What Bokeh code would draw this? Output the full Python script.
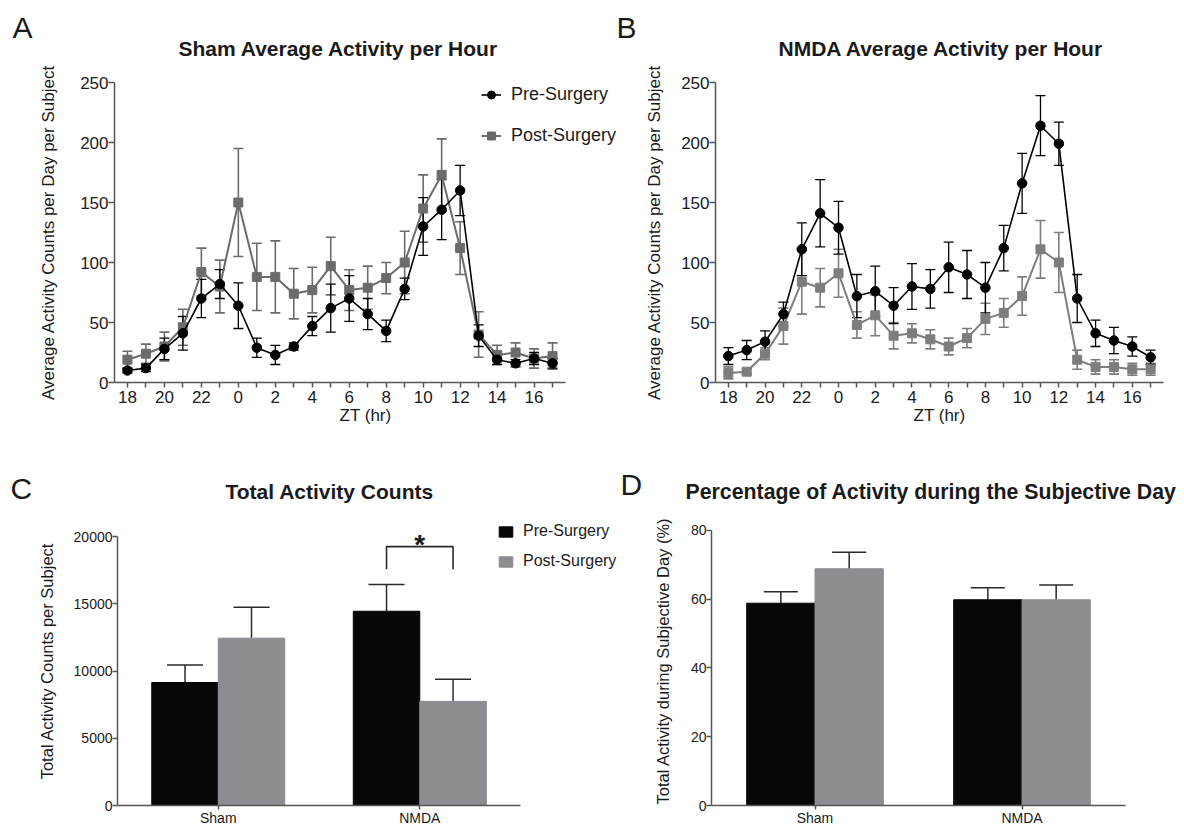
from bokeh.plotting import figure
from bokeh.models import (ColumnDataSource, Whisker, TeeHead, FixedTicker, Range1d,
                          Legend, LegendItem)
from bokeh.layouts import row, column
from bokeh.transform import dodge
from bokeh.core.properties import value
from bokeh.embed import file_html
from bokeh.resources import INLINE

FONT = "Liberation Sans"

# ---------------- data ----------------
hours = [18, 19, 20, 21, 22, 23, 0, 1, 2, 3, 4, 5, 6, 7, 8, 9, 10, 11, 12, 13, 14, 15, 16, 17]
yticks_hourly = [0, 50, 100, 150, 200, 250]

sham_pre = [10, 12, 28, 41, 70, 82, 64, 29, 23, 30, 47, 62, 70, 57, 43, 78, 130, 144, 160, 39, 19, 16, 20, 16]
sham_pre_err = [2, 3, 9, 14, 16, 12, 19, 8, 8, 3, 8, 20, 19, 13, 9, 9, 24, 25, 21, 9, 4, 3, 5, 4]
sham_post = [19, 24, 30, 46, 92, 80, 150, 88, 88, 74, 77, 97, 77, 79, 87, 100, 145, 173, 112, 40, 23, 25, 20, 22]
sham_post_err = [7, 8, 12, 15, 20, 22, 45, 28, 30, 21, 19, 24, 17, 18, 13, 26, 28, 30, 22, 19, 8, 8, 8, 11]

nmda_pre = [22, 27, 34, 57, 111, 141, 129, 72, 76, 64, 80, 78, 96, 90, 79, 112, 166, 214, 199, 70, 41, 35, 30, 21]
nmda_pre_err = [7, 8, 9, 10, 22, 28, 22, 18, 21, 15, 19, 16, 21, 20, 21, 19, 25, 25, 18, 20, 11, 11, 8, 6]
nmda_post = [8, 9, 24, 47, 84, 79, 91, 48, 56, 39, 41, 36, 30, 37, 53, 58, 72, 111, 100, 19, 13, 13, 11, 11]
nmda_post_err = [5, 2, 5, 15, 27, 16, 20, 11, 17, 11, 8, 8, 7, 8, 13, 12, 16, 24, 25, 8, 6, 6, 5, 5]

groups = ["Sham", "NMDA"]
total_pre = [9150, 14450]
total_pre_err = [1300, 2000]
total_post = [12450, 7750]
total_post_err = [2300, 1650]
total_ticks = [0, 5000, 10000, 15000, 20000]
sig_top = 19260
sig_foot = 17580

pct_pre = [58.8, 59.8]
pct_pre_err = [3.3, 3.5]
pct_post = [68.8, 59.8]
pct_post_err = [4.8, 4.3]
pct_ticks = [0, 20, 40, 60, 80]

TXT = "#1a1a1a"
AX = "#555555"

TOP_H, BOT_H = 430, 398
TOP_MT, TOP_MB = 82, 48
BOT_MT, BOT_MB = 86, 22


def style(p, tick_px, label_px):
    p.outline_line_color = None
    p.xgrid.grid_line_color = None
    p.ygrid.grid_line_color = None
    p.background_fill_color = "white"
    for ax in (p.xaxis, p.yaxis):
        ax.axis_line_color = AX
        ax.axis_line_width = 1.5
        ax.major_tick_line_color = AX
        ax.major_tick_line_width = 1.5
        ax.major_tick_in = 0
        ax.minor_tick_line_color = None
        ax.major_label_text_font = FONT
        ax.major_label_text_font_size = tick_px
        ax.major_label_text_color = TXT
        ax.axis_label_text_font = FONT
        ax.axis_label_text_font_size = label_px
        ax.axis_label_text_font_style = "normal"
        ax.axis_label_text_color = TXT
        ax.major_label_standoff = 0


def set_title(p, text, size, offset, standoff, valign="middle", bold=True):
    p.title.text = text
    p.title.text_font = FONT
    p.title.text_font_size = size
    p.title.text_font_style = "bold" if bold else "normal"
    p.title.text_color = TXT
    p.title.align = "left"
    p.title.offset = offset
    p.title.standoff = standoff
    p.title.vertical_align = valign


def letter_fig(text, width, height, mt, mb, offset, standoff, valign):
    p = figure(width=width, height=height, output_backend="svg", toolbar_location=None,
               x_axis_type=None, y_axis_type=None,
               min_border_left=0, min_border_right=0, min_border_top=mt, min_border_bottom=mb)
    p.outline_line_color = None
    set_title(p, text, "30px", offset, standoff, valign, bold=False)
    return p


def hourly(title, pre, pre_err, post, post_err, width, mbl, mbr, xmax, post_col,
           ylab_standoff, title_offset, with_legend):
    idx = list(range(len(hours)))
    src = ColumnDataSource(dict(
        x=idx, pre=pre, post=post,
        pre_lo=[v - e for v, e in zip(pre, pre_err)], pre_hi=[v + e for v, e in zip(pre, pre_err)],
        post_lo=[v - e for v, e in zip(post, post_err)], post_hi=[v + e for v, e in zip(post, post_err)],
    ))
    p = figure(width=width, height=TOP_H, output_backend="svg", toolbar_location=None,
               x_range=Range1d(-0.7, xmax), y_range=Range1d(0, 250),
               min_border_left=mbl, min_border_right=mbr, min_border_top=TOP_MT, min_border_bottom=TOP_MB)
    style(p, "17px", "17px")
    set_title(p, title, "21px", title_offset, 43)

    p.xaxis.ticker = FixedTicker(ticks=idx)
    p.xaxis.major_label_overrides = {i: (str(h) if h % 2 == 0 else "") for i, h in enumerate(hours)}
    p.xaxis.major_tick_out = 5
    p.xaxis.major_label_standoff = 3
    p.xaxis.bounds = (-0.7, len(hours) - 0.3)
    p.xaxis.axis_label = "ZT (hr)"
    p.xaxis.axis_label_standoff = 0
    p.yaxis.ticker = FixedTicker(ticks=yticks_hourly)
    p.yaxis.bounds = (0, 250)
    p.yaxis.major_tick_out = 6
    p.yaxis.axis_label = "Average Activity Counts per Day per Subject"
    p.yaxis.axis_label_standoff = ylab_standoff

    for lo, hi, col, w in (("post_lo", "post_hi", post_col, 1.6), ("pre_lo", "pre_hi", "black", 1.3)):
        p.add_layout(Whisker(base="x", lower=lo, upper=hi, source=src, level="underlay",
                             line_color=col, line_width=w,
                             upper_head=TeeHead(size=10, line_color=col, line_width=w),
                             lower_head=TeeHead(size=10, line_color=col, line_width=w)))
    l_post = p.line("x", "post", source=src, line_color=post_col, line_width=2)
    m_post = p.scatter("x", "post", source=src, marker="square", size=9,
                       fill_color=post_col, line_color=post_col)
    l_pre = p.line("x", "pre", source=src, line_color="black", line_width=1.6)
    m_pre = p.scatter("x", "pre", source=src, marker="circle", size=9.5,
                      fill_color="black", line_color="black")
    if with_legend:
        lg = Legend(items=[LegendItem(label="Pre-Surgery", renderers=[l_pre, m_pre]),
                           LegendItem(label="Post-Surgery", renderers=[l_post, m_post])],
                    location=(367, 236))
        lg.border_line_color = None
        lg.background_fill_alpha = 0
        lg.padding = 0
        lg.margin = 0
        lg.spacing = 20
        lg.glyph_width = 20
        lg.glyph_height = 21
        lg.label_height = 21
        lg.label_standoff = 10
        lg.label_text_font = FONT
        lg.label_text_font_size = "18px"
        lg.label_text_color = TXT
        p.add_layout(lg)
    return p


# panel letters A/B sit higher than the titles: a blank second line lifts them
letA = letter_fig("A\n ", 36, TOP_H, TOP_MT, TOP_MB, 12, 8, "top")
pA = hourly("Sham Average Activity per Hour", sham_pre, sham_pre_err, sham_post, sham_post_err,
            580, 77, 0, 26.46, "#6b6b6b", 19, 64, True)
letB = letter_fig("B\n ", 26, TOP_H, TOP_MT, TOP_MB, 0, 8, "top")
pB = hourly("NMDA Average Activity per Hour", nmda_pre, nmda_pre_err, nmda_post, nmda_post_err,
            542, 71, 21, 23.7, "#7d7d7d", 14, 63, False)

PRE_COL = "#070707"
POST_COL = "#8c8c91"
OFF = 0.165
BW = 0.33


def bars(title, pre, pre_err, post, post_err, width, mbl, mbr, xmax, ymax, ybound, ticks,
         ylabel, ylab_standoff, cap, title_offset, title_size, title_standoff):
    xc = [i + 0.5 for i in range(len(groups))]
    src = ColumnDataSource(dict(
        xc=xc, pre=pre, post=post,
        pre_hi=[v + e for v, e in zip(pre, pre_err)],
        post_hi=[v + e for v, e in zip(post, post_err)],
    ))
    p = figure(width=width, height=BOT_H, output_backend="svg", toolbar_location=None,
               x_range=Range1d(0, xmax), y_range=Range1d(0, ymax),
               min_border_left=mbl, min_border_right=mbr, min_border_top=BOT_MT, min_border_bottom=BOT_MB)
    style(p, "14px", "16.5px")
    set_title(p, title, title_size, title_offset, title_standoff)
    p.xaxis.ticker = FixedTicker(ticks=xc)
    p.xaxis.major_label_overrides = {x: g for x, g in zip(xc, groups)}
    p.xaxis.major_tick_out = 4
    p.xaxis.bounds = (0, len(groups))
    p.yaxis.ticker = FixedTicker(ticks=ticks)
    p.yaxis.bounds = (0, ybound)
    p.yaxis.major_tick_out = 5
    p.yaxis.axis_label = ylabel
    p.yaxis.axis_label_standoff = ylab_standoff

    b_pre = p.vbar(x=dodge("xc", -OFF), top="pre", width=BW, source=src,
                   fill_color=PRE_COL, line_color=PRE_COL)
    b_post = p.vbar(x=dodge("xc", OFF), top="post", width=BW, source=src,
                    fill_color=POST_COL, line_color=POST_COL)
    for off, lo, hi in ((-OFF, "pre", "pre_hi"), (OFF, "post", "post_hi")):
        p.add_layout(Whisker(base=dodge("xc", off), lower=lo, upper=hi, source=src,
                             line_color="#2a2a2a", line_width=1.5, lower_head=None,
                             upper_head=TeeHead(size=cap, line_color="#2a2a2a", line_width=1.5)))
    return p, b_pre, b_post, xc


letC = letter_fig("C", 34, BOT_H, BOT_MT, BOT_MB, 10, 22, "middle")
pC, c_pre, c_post, xcC = bars("Total Activity Counts", total_pre, total_pre_err, total_post, total_post_err,
                              586, 78, 0, 2.496, 21500, 20000, total_ticks,
                              "Total Activity Counts per Subject", 15, 36, 108, "21px", 25)
# significance bracket between NMDA pre and post
nx = xcC[1]
pC.line(x=[nx - OFF, nx - OFF, nx + OFF, nx + OFF], y=[sig_foot, sig_top, sig_top, sig_foot],
        line_color="#2a2a2a", line_width=1.6)
pC.text(x=[nx], y=[sig_top], text=["*"], text_align="center", text_baseline="middle",
        y_offset=-2, text_font=value(FONT), text_font_size="28px", text_font_style="bold",
        text_color=TXT)
lgC = Legend(items=[LegendItem(label="Pre-Surgery", renderers=[c_pre]),
                    LegendItem(label="Post-Surgery", renderers=[c_post])],
             location=(380, 235))
lgC.border_line_color = None
lgC.background_fill_alpha = 0
lgC.padding = 0
lgC.margin = 0
lgC.spacing = 12
lgC.glyph_width = 17
lgC.glyph_height = 13
lgC.label_height = 18
lgC.label_standoff = 9
lgC.label_text_font = FONT
lgC.label_text_font_size = "16px"
lgC.label_text_color = TXT
pC.add_layout(lgC)

letD = letter_fig("D", 30, BOT_H, BOT_MT, BOT_MB, 0, 30, "middle")
pD, d_pre, d_post, xcD = bars("Percentage of Activity during the Subjective Day", pct_pre, pct_pre_err,
                              pct_post, pct_post_err, 534, 60, 59, 2, 84, 80, pct_ticks,
                              "Total Activity during Subjective Day (%)", 16, 34, -26, "21.3px", 24)

layout = column(row(letA, pA, letB, pB, spacing=0), row(letC, pC, letD, pD, spacing=0), spacing=0)

with open("out.html", "w") as f:
    f.write(file_html(layout, INLINE))
